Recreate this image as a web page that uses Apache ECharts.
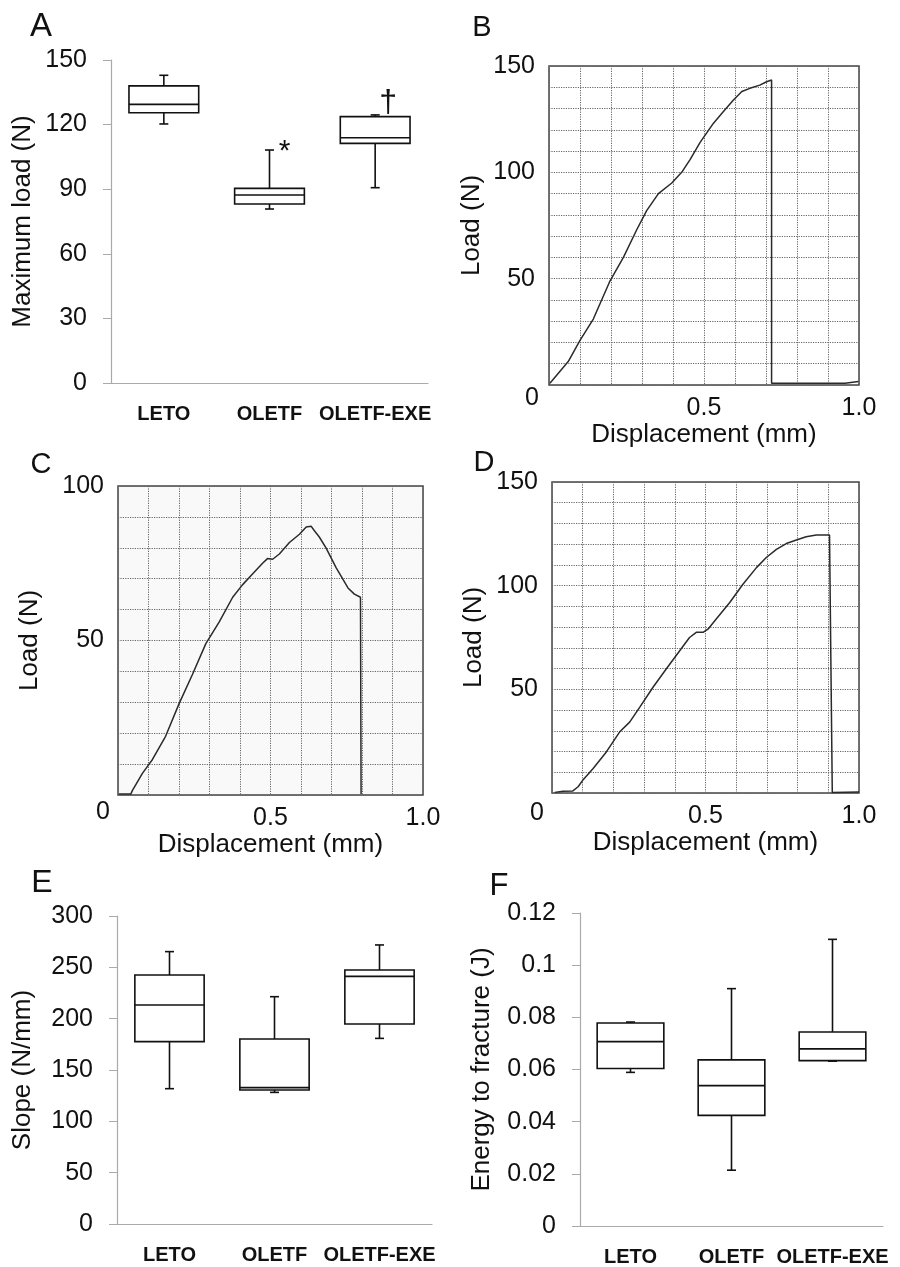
<!DOCTYPE html>
<html>
<head>
<meta charset="utf-8">
<script src="https://cdn.jsdelivr.net/npm/echarts@6/dist/echarts.min.js"></script>
<style>
  html, body { margin: 0; background: #fff; }
  #main { width: 900px; height: 1267px; }
</style>
</head>
<body>
<div id="main"></div>
<script>
// groups on the box plots
const groups = ['LETO', 'OLETF', 'OLETF-EXE']

// box values per group: [min, Q1, median, Q3, max]
const maxLoad = [[120.3, 125.5, 129.4, 138.0, 142.9], [80.8, 83.1, 87.3, 90.4, 108.2], [90.7, 111.3, 113.9, 123.7, 124.5]]
const slope = [[131.8, 177.6, 213.3, 242.5, 265.3], [128.2, 130.5, 132.8, 180.2, 221.4], [180.8, 194.8, 241.2, 247.4, 271.8]]
const energy = [[0.0589, 0.0604, 0.0707, 0.0778, 0.0782], [0.0214, 0.0424, 0.0538, 0.0637, 0.091], [0.0632, 0.0634, 0.0679, 0.0744, 0.1099]]

// load-displacement traces, [mm, N]
const curveB = [[0.003, 0.8], [0.062, 11], [0.1, 21], [0.143, 31], [0.197, 49], [0.24, 60], [0.283, 73], [0.315, 82],
  [0.353, 90], [0.396, 95], [0.428, 100], [0.455, 106], [0.487, 114], [0.53, 123], [0.562, 128.5], [0.595, 134],
  [0.622, 138], [0.648, 139.5], [0.68, 141], [0.702, 142.6], [0.718, 143.4], [0.718, 0.8], [0.955, 0.8],
  [0.96, 1.6], [0.998, 1.6]]
const curveC = [[0.003, 0.3], [0.042, 0.3], [0.047, 1.4], [0.08, 7], [0.102, 10], [0.113, 11.5], [0.118, 11.2],
  [0.156, 19], [0.2, 29.5], [0.244, 39], [0.288, 49], [0.332, 56], [0.376, 64], [0.408, 68], [0.441, 71.5],
  [0.474, 75], [0.49, 76.5], [0.507, 76.3], [0.529, 78], [0.562, 81.7], [0.595, 84.4], [0.617, 86.7], [0.633, 87],
  [0.644, 85.5], [0.66, 83.5], [0.682, 80], [0.715, 73.6], [0.754, 67], [0.775, 65], [0.795, 64], [0.797, 0.3]]
const curveD = [[0.009, 0.3], [0.036, 0.8], [0.068, 1], [0.085, 3], [0.1, 6.1], [0.134, 11.8], [0.177, 19.8],
  [0.22, 29.4], [0.253, 34.2], [0.286, 41.4], [0.329, 51], [0.372, 59.8], [0.416, 68.6], [0.448, 75], [0.47, 77.5],
  [0.492, 77.5], [0.508, 79], [0.535, 83.9], [0.579, 91.9], [0.622, 100.7], [0.666, 108.7], [0.698, 113.6],
  [0.731, 117.5], [0.763, 120.3], [0.796, 122], [0.828, 123.6], [0.861, 124.4], [0.904, 124.4], [0.91, 123.6],
  [0.913, 0.3], [1.0, 0.5]]

const FONT = 'Liberation Sans, Arial, sans-serif'
const INK = '#111'

const chart = echarts.init(document.getElementById('main'))

// box drawn with short whisker caps
function renderBox(params, api) {
  const i = api.value(0)
  const lo = api.coord([i, api.value(1)])
  const q1 = api.coord([i, api.value(2)])
  const med = api.coord([i, api.value(3)])
  const q3 = api.coord([i, api.value(4)])
  const hi = api.coord([i, api.value(5)])
  const half = api.size([1, 0])[0] * 0.33
  const cx = lo[0]
  const cap = 4.5
  const st = { stroke: INK, lineWidth: 1.6, fill: null }
  const line = (x1, y1, x2, y2) => ({ type: 'line', shape: { x1, y1, x2, y2 }, style: st })
  return {
    type: 'group',
    children: [
      line(cx, q3[1], cx, hi[1]),
      line(cx - cap, hi[1], cx + cap, hi[1]),
      line(cx, q1[1], cx, lo[1]),
      line(cx - cap, lo[1], cx + cap, lo[1]),
      { type: 'rect', shape: { x: cx - half, y: q3[1], width: half * 2, height: q1[1] - q3[1] },
        style: { stroke: INK, lineWidth: 1.6, fill: '#fff' } },
      line(cx - half, med[1], cx + half, med[1])
    ]
  }
}

function boxX(gridIndex) {
  return {
    type: 'category', gridIndex, data: groups,
    axisLine: { lineStyle: { color: '#aaa', width: 1.2 } },
    axisTick: { length: 7, lineStyle: { color: '#aaa' } },
    axisLabel: { interval: 0, hideOverlap: false, margin: 21, color: INK, fontFamily: FONT, fontSize: 20, fontWeight: 'bold' }
  }
}
function boxY(gridIndex, name, max, interval, nameGap) {
  return {
    type: 'value', gridIndex, min: 0, max, interval, name,
    nameLocation: 'middle', nameGap, nameRotate: 90,
    nameTextStyle: { color: INK, fontFamily: FONT, fontSize: 26 },
    axisLine: { show: true, lineStyle: { color: '#aaa', width: 1.2 } },
    axisTick: { show: true, length: 8, lineStyle: { color: '#aaa' } },
    axisLabel: { margin: 24, color: INK, fontFamily: FONT, fontSize: 25 },
    splitLine: { show: false }
  }
}
const dots = { show: true, lineStyle: { color: '#666', width: 1, type: [1.2, 1.2] } }
function curveX(gridIndex, nameGap) {
  return {
    type: 'value', gridIndex, min: 0, max: 1, interval: 0.1,
    name: 'Displacement (mm)', nameLocation: 'middle', nameGap,
    nameTextStyle: { color: INK, fontFamily: FONT, fontSize: 26 },
    axisLine: { show: false }, axisTick: { show: false },
    axisLabel: {
      margin: 11, color: INK, fontFamily: FONT, fontSize: 25, showMinLabel: true, showMaxLabel: true,
      formatter: v => Math.abs(v - 0.5) < 1e-6 ? '0.5' : (Math.abs(v - 1) < 1e-6 ? '1.0' : '')
    },
    splitLine: dots
  }
}
function curveY(gridIndex, max, nameGap) {
  return {
    type: 'value', gridIndex, min: 0, max, interval: 10,
    name: 'Load (N)', nameLocation: 'middle', nameGap, nameRotate: 90,
    nameTextStyle: { color: INK, fontFamily: FONT, fontSize: 26 },
    axisLine: { show: false }, axisTick: { show: false },
    axisLabel: {
      margin: 14, color: INK, fontFamily: FONT, fontSize: 25,
      formatter: v => (v > 0 && v % 50 === 0) ? String(v) : ''
    },
    splitLine: dots
  }
}
function frame(left, top, width, height, bg) {
  return { left, top, width, height, show: true, borderColor: '#444', borderWidth: 1.5, backgroundColor: bg }
}
const trace = { color: '#2a2a2a', width: 1.5 }

chart.setOption({
  animation: false,
  grid: [
    { left: 111, top: 60, width: 317, height: 323 },
    frame(549, 66, 310, 319, '#fff'),
    frame(118, 486, 305, 309, '#f9f9f9'),
    frame(552, 482, 307, 311, '#fff'),
    { left: 117, top: 916, width: 315, height: 308 },
    { left: 580, top: 913, width: 303, height: 314 }
  ],
  xAxis: [boxX(0), curveX(1, 37), curveX(2, 34), curveX(3, 37), boxX(4), boxX(5)],
  yAxis: [
    boxY(0, 'Maximum load (N)', 150, 30, 75),
    curveY(1, 150, 64),
    curveY(2, 100, 75),
    curveY(3, 150, 65),
    boxY(4, 'Slope (N/mm)', 300, 50, 81),
    boxY(5, 'Energy to fracture (J)', 0.12, 0.02, 85)
  ],
  series: [
    { type: 'custom', xAxisIndex: 0, yAxisIndex: 0, renderItem: renderBox, data: groups.map((g, i) => [i, ...maxLoad[i]]) },
    { type: 'line', xAxisIndex: 1, yAxisIndex: 1, data: curveB, showSymbol: false, lineStyle: trace },
    { type: 'line', xAxisIndex: 2, yAxisIndex: 2, data: curveC, showSymbol: false, lineStyle: trace },
    { type: 'line', xAxisIndex: 3, yAxisIndex: 3, data: curveD, showSymbol: false, lineStyle: trace },
    { type: 'custom', xAxisIndex: 4, yAxisIndex: 4, renderItem: renderBox, data: groups.map((g, i) => [i, ...slope[i]]) },
    { type: 'custom', xAxisIndex: 5, yAxisIndex: 5, renderItem: renderBox, data: groups.map((g, i) => [i, ...energy[i]]) }
  ]
})

// panel letters, origin zeros and significance marks
const txt = (x, y, text, size) => ({
  type: 'text', x, y,
  style: { text, fill: INK, font: size + 'px ' + FONT, align: 'center', verticalAlign: 'middle' }
})
const origin = i => chart.convertToPixel({ gridIndex: i }, [0, 0])
const oB = origin(1), oC = origin(2), oD = origin(3)
const star = chart.convertToPixel({ xAxisIndex: 0, yAxisIndex: 0 }, [1, maxLoad[1][4]])
const dag = chart.convertToPixel({ xAxisIndex: 0, yAxisIndex: 0 }, [2, maxLoad[2][4]])

chart.setOption({
  graphic: [
    txt(41, 27, 'A', 33), txt(482, 28, 'B', 29), txt(41, 465, 'C', 29),
    txt(484, 463, 'D', 29), txt(42, 883, 'E', 32), txt(499, 886, 'F', 31),
    txt(oB[0] - 17, oB[1] + 13, '0', 25), txt(oC[0] - 15, oC[1] + 17, '0', 25), txt(oD[0] - 15, oD[1] + 20, '0', 25),
    txt(star[0] + 15, star[1] + 2, '*', 30),
    txt(dag[0] + 13, dag[1] - 12, '\u2020', 32)
  ]
})
</script>
</body>
</html>
